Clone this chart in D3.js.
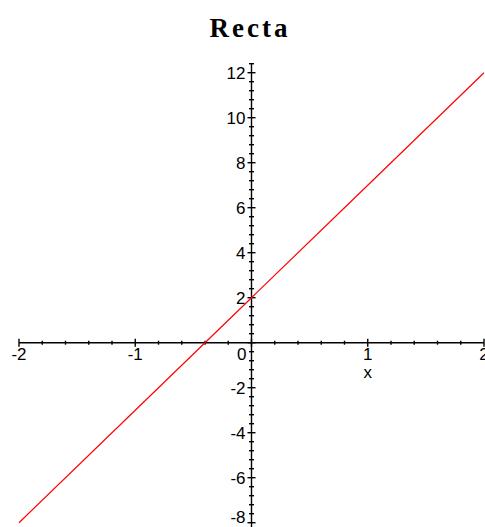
<!DOCTYPE html>
<html>
<head>
<meta charset="utf-8">
<script src="https://cdn.jsdelivr.net/npm/d3@7"></script>
<style>
  html, body { margin: 0; padding: 0; background: #fff; }
  svg { display: block; }
  .lbl { font-family: "Liberation Sans", Arial, sans-serif; font-size: 17px; fill: #000; }
</style>
</head>
<body>
<script>
// Line y = 5x + 2, sampled at whole x values
const xValues = [-2, -1, 0, 1, 2];
const yValues = [-8, -3, 2, 7, 12];

const xTickLabels = [-2, -1, 0, 1, 2];
const yTickLabels = [-8, -6, -4, -2, 2, 4, 6, 8, 10, 12];
const titleText = "Recta";
const xAxisName = "x";

const W = 485, H = 527;
const svg = d3.select("body").append("svg").attr("width", W).attr("height", H);

const x = d3.scaleLinear().domain([-2, 2]).range([19, 484]);
const y = d3.scaleLinear().domain([-8, 12]).range([522.7, 72.7]);

const x0 = x(0), y0 = y(0);

// Title
svg.append("text")
  .attr("x", 250).attr("y", 37)
  .attr("text-anchor", "middle")
  .attr("font-family", "'Liberation Serif', 'Times New Roman', serif")
  .attr("font-weight", "bold")
  .attr("font-size", 27)
  .attr("letter-spacing", 3)
  .text(titleText);

const axisG = svg.append("g").attr("stroke", "#000").attr("stroke-width", 1.4);

// x axis line and ticks
axisG.append("line").attr("x1", x(-2)).attr("x2", x(2)).attr("y1", y0).attr("y2", y0);
const xMinor = d3.range(-2, 2.0001, 0.2).map(v => +v.toFixed(2));
axisG.selectAll(".xt").data(xMinor).join("line")
  .attr("x1", d => x(d)).attr("x2", d => x(d))
  .attr("y1", d => y0 - (Number.isInteger(d) ? 4 : 2))
  .attr("y2", d => y0 + (Number.isInteger(d) ? 4 : 2));

// y axis line and ticks
axisG.append("line").attr("x1", x0).attr("x2", x0).attr("y1", y(12.4)).attr("y2", H);
const yMinor = d3.range(-8, 12.4001, 0.4).map(v => +v.toFixed(2));
axisG.selectAll(".yt").data(yMinor).join("line")
  .attr("y1", d => y(d)).attr("y2", d => y(d))
  .attr("x1", d => x0 - ((Number.isInteger(d) && d % 2 === 0) ? 4 : 2.5))
  .attr("x2", d => x0 + ((Number.isInteger(d) && d % 2 === 0) ? 4 : 2.5));

// x tick labels
svg.selectAll(".xl").data(xTickLabels).join("text")
  .attr("class", "lbl")
  .attr("x", d => d === 0 ? x0 - 5 : x(d))
  .attr("y", y0 + 17)
  .attr("text-anchor", d => d === 0 ? "end" : "middle")
  .text(d => d);

// y tick labels (the lowest one is kept inside the frame)
svg.selectAll(".yl").data(yTickLabels).join("text")
  .attr("class", "lbl")
  .attr("x", x0 - 6)
  .attr("y", d => Math.min(y(d) + 6, H - 4))
  .attr("text-anchor", "end")
  .text(d => d);

// axis name
svg.append("text").attr("class", "lbl")
  .attr("x", x(1)).attr("y", y0 + 35)
  .attr("text-anchor", "middle")
  .text(xAxisName);

// the line
const pts = xValues.map((v, i) => [v, yValues[i]]);
svg.append("path")
  .datum(pts)
  .attr("fill", "none")
  .attr("stroke", "#ff0000")
  .attr("stroke-width", 1.2)
  .attr("d", d3.line().x(d => x(d[0])).y(d => y(d[1])));
</script>
</body>
</html>
